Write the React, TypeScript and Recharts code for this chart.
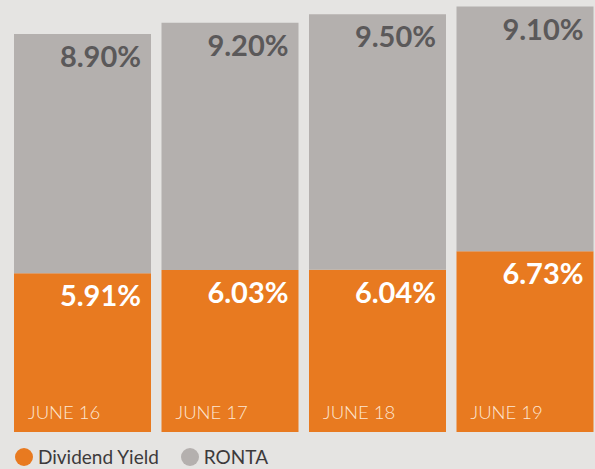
import { Bar, BarChart, LabelList, XAxis, YAxis } from "recharts";

const periods = ["JUNE 16", "JUNE 17", "JUNE 18", "JUNE 19"];
const dividendYield = [5.91, 6.03, 6.04, 6.73];
const ronta = [8.9, 9.2, 9.5, 9.1];

const data = periods.map((period, i) => ({
  period,
  dividendYield: dividendYield[i],
  ronta: ronta[i]
}));

const FONT = "Lato, 'Open Sans', sans-serif";
const ORANGE = "#e87a20";
const GREY = "#b4b0ae";

const valueLabel = (color: string) => (props: any) => {
  const { x, y, width, value } = props;
  return (
    <text
      x={x + width - 10}
      y={y + 33}
      fill={color}
      fontFamily={FONT}
      fontSize={29}
      fontWeight={700}
      textAnchor="end"
    >
      {Number(value).toFixed(2)}%
    </text>
  );
};

const periodLabel = (props: any) => {
  const { x, y, height, index } = props;
  return (
    <text
      x={x + 14}
      y={y + height - 13}
      fill="#fde6d2"
      fontFamily={FONT}
      fontSize={18.5}
      fontWeight={300}
    >
      {periods[index]}
    </text>
  );
};

const legendItems = [
  { name: "Dividend Yield", color: ORANGE },
  { name: "RONTA", color: GREY }
];

export default function App() {
  return (
    <div
      style={{ position: "relative", width: 595, height: 469, background: "#e5e4e2" }}
    >
      <style>{"body{margin:0}"}</style>
      <BarChart
        width={595}
        height={469}
        data={data}
        margin={{ top: 2, right: -4, bottom: 37, left: 9 }}
        barSize={137}
      >
        <XAxis dataKey="period" hide />
        <YAxis domain={[0, 16]} hide />
        <Bar
          dataKey="dividendYield"
          name="Dividend Yield"
          fill={ORANGE}
          stackId="a"
          isAnimationActive={false}
        >
          <LabelList dataKey="dividendYield" content={valueLabel("#ffffff")} />
          <LabelList dataKey="period" content={periodLabel} />
        </Bar>
        <Bar
          dataKey="ronta"
          name="RONTA"
          fill={GREY}
          stackId="a"
          isAnimationActive={false}
        >
          <LabelList dataKey="ronta" content={valueLabel("#5b595a")} />
        </Bar>
      </BarChart>
      <div
        style={{
          position: "absolute",
          left: 15,
          top: 446,
          display: "flex",
          alignItems: "center",
          fontFamily: FONT,
          fontSize: 19,
          lineHeight: "22px",
          color: "#3c3a3b"
        }}
      >
        {legendItems.map((item) => (
          <span
            key={item.name}
            style={{ display: "flex", alignItems: "center", marginRight: 22 }}
          >
            <span
              style={{
                width: 18,
                height: 18,
                borderRadius: "50%",
                background: item.color,
                marginRight: 5
              }}
            />
            {item.name}
          </span>
        ))}
      </div>
    </div>
  );
}
